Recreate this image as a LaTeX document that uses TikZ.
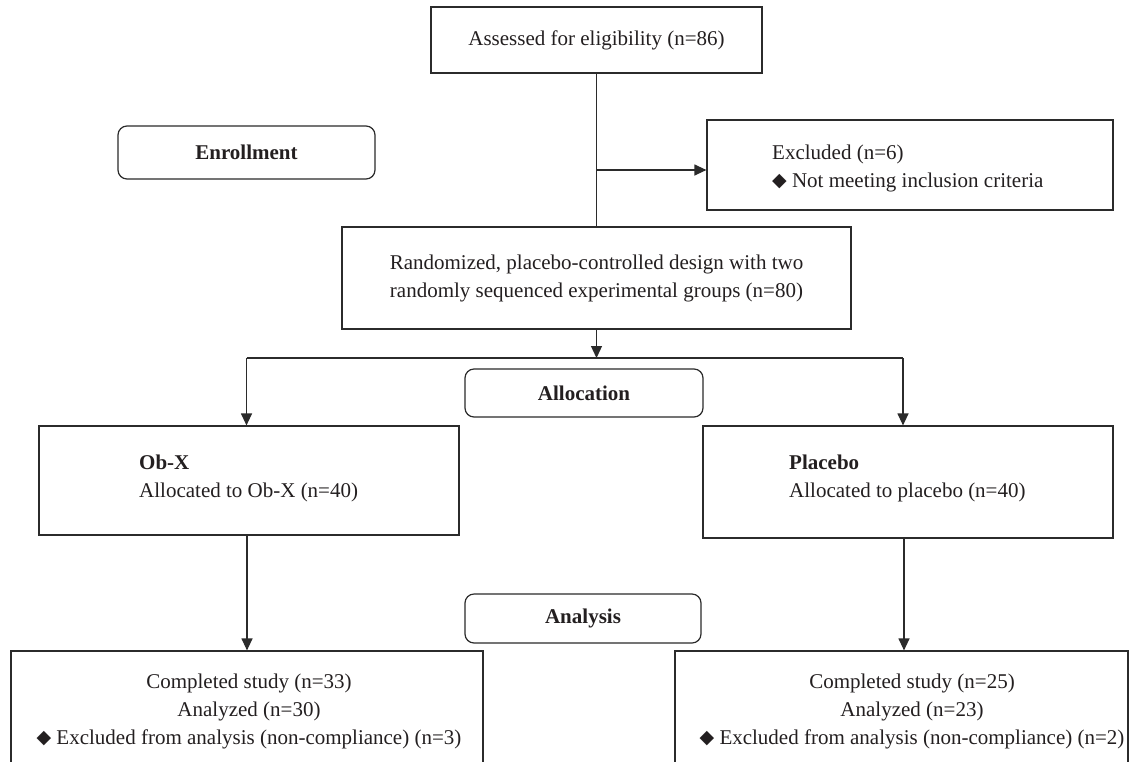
\documentclass[tikz,border=0pt]{standalone}
\usepackage{fontspec}
\setmainfont{Liberation Serif}
\newfontfamily\djf{DejaVu Sans}
\usetikzlibrary{arrows.meta}
\definecolor{linec}{HTML}{2B2B2B}
\definecolor{textc}{HTML}{231F20}
\newcommand{\dia}{{\djf\fontsize{19}{28}\selectfont\raisebox{0.5pt}{◆}}}
\tikzset{
  box/.style={draw=linec, line width=1.2pt, inner sep=0pt, text=textc, align=center, font=\fontsize{21}{28}\selectfont},
  rbox/.style={box, rounded corners=9pt, font=\fontsize{21}{28}\selectfont\bfseries},
  txt/.style={inner sep=0pt, text=textc, align=left, font=\fontsize{21}{28}\selectfont},
  arr/.style={draw=linec, line width=1.2pt, -{Triangle[width=11pt,length=12pt]}},
  ln/.style={draw=linec, line width=1.2pt}
}
\begin{document}
\begin{tikzpicture}[x=1pt,y=-1pt]
\useasboundingbox (0,0) rectangle (1140,761);
\clip (0,0) rectangle (1140,761);
\fill[white] (0,0) rectangle (1140,761);
% boxes
\node[box, minimum width=331, minimum height=66] (assess) at (596.5,40) {Assessed for eligibility (n=86)};
\node[rbox, minimum width=257, minimum height=53] (enroll) at (246.5,152.5) {Enrollment};
\node[box, minimum width=406, minimum height=90] (excl) at (910,165) {};
\node[txt, anchor=west] (excltxt) at (772,168) {Excluded (n=6)\\\dia\ Not meeting inclusion criteria};
\node[box, minimum width=509, minimum height=102] (rand) at (596.5,278) {Randomized, placebo-controlled design with two\\randomly sequenced experimental groups (n=80)};
\node[rbox, minimum width=238, minimum height=48] (alloc) at (584,393) {Allocation};
\node[box, minimum width=420, minimum height=109] (obx) at (249,480.5) {};
\node[txt, anchor=west] (obxtxt) at (139,478) {\textbf{Ob-X}\\Allocated to Ob-X (n=40)};
\node[box, minimum width=410, minimum height=112] (plac) at (908,482) {};
\node[txt, anchor=west] (plactxt) at (789,478) {\textbf{Placebo}\\Allocated to placebo (n=40)};
\node[rbox, minimum width=236, minimum height=49] (anal) at (583,618.5) {Analysis};
\node[box, minimum width=472, minimum height=149] (compa) at (247,725.5) {};
\node[txt, align=center] (compatxt) at (249,711) {Completed study (n=33)\\Analyzed (n=30)\\\dia\ Excluded from analysis (non-compliance) (n=3)};
\node[box, minimum width=453, minimum height=149] (compb) at (901.5,725.5) {};
\node[txt, align=center] (compbtxt) at (912,711) {Completed study (n=25)\\Analyzed (n=23)\\\dia\ Excluded from analysis (non-compliance) (n=2)};
% connectors
\coordinate (j1) at (596.5,170);
\coordinate (jb) at (596.5,358);
\coordinate (bl) at (246.5,358);
\coordinate (brr) at (903,358);
\draw[ln] (assess.south) -- (rand.north);
\draw[arr] (j1) -- (j1 -| excl.west);
\draw[gray!70, line width=2.2pt] (517,358) -- (631,358);
\draw[arr] (rand.south) -- (jb);
\draw[ln] (bl) -- (brr);
\draw[arr] (bl) -- (bl |- obx.north);
\draw[arr] (brr) -- (brr |- plac.north);
\coordinate (ol) at (247,0);
\coordinate (pr) at (904,0);
\draw[arr] (ol |- obx.south) -- (ol |- compa.north);
\draw[arr] (pr |- plac.south) -- (pr |- compb.north);
\end{tikzpicture}
\end{document}
